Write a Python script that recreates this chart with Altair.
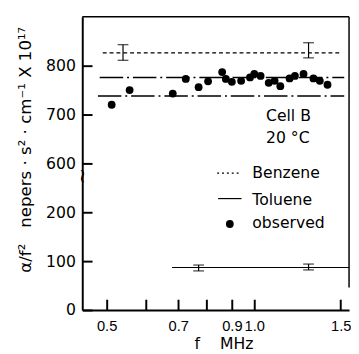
import altair as alt
import pandas as pd

# ---- data ----
obs_f = [0.512, 0.557, 0.682, 0.725, 0.770, 0.805, 0.860, 0.875, 0.900, 0.940, 0.980,
         1.000, 1.030, 1.070, 1.100, 1.130, 1.180, 1.210, 1.260, 1.320, 1.360, 1.410]
obs_a = [720, 750, 743, 773, 756, 768, 787, 773, 767, 769, 776,
         783, 779, 765, 769, 758, 774, 779, 783, 774, 769, 761]

benzene_f = [0.491, 1.50]
benzene_a = [826, 826]
upper_dd_f = [0.484, 1.525]
upper_dd_a = [776, 776]
lower_dd_f = [0.480, 1.525]
lower_dd_a = [738, 738]
toluene_f = [0.68, 1.56]
toluene_a = [87, 87]

err_f = [0.54, 1.29, 0.77, 1.29]
err_lo = [811, 816, 80, 82]
err_hi = [843, 847, 92, 94]

x_ticks = [0.5, 0.6, 0.7, 0.8, 0.9, 1.0, 1.5]
x_unlabelled = [0.6, 0.8]
y_ticks_mapped = [0, 100, 200, 300, 400, 500]   # 600/700/800 sit above the break

F_MIN, F_MAX = 0.446, 1.56


def brk(v):
    # broken axis: values above the break are shifted down by 300
    return v - 300 if v >= 450 else v


W, H = 273, 300
NB = "\u00a0"

xscale = alt.Scale(type="log", domain=[F_MIN, F_MAX], nice=False, zero=False)
yscale = alt.Scale(domain=[0, 600], nice=False, zero=False)

x_label_expr = ("indexof(" + str(x_unlabelled) + ", datum.value) >= 0 ? '' : "
                "format(datum.value, '.1f')")


def X():
    return alt.X("f:Q", scale=xscale, axis=alt.Axis(
        values=x_ticks, labelExpr=x_label_expr, ticks=True,
        tickSize={"expr": "-11"}, tickWidth=2, tickColor="#000000", tickOpacity=1,
        grid=False, domainColor="#000000", domainWidth=2,
        labelPadding=20, labelOverlap=False, labelFontSize=15, labelColor="#000000",
        labelFont="Liberation Sans", title=None, zindex=1))


def Y():
    return alt.Y("ym:Q", scale=yscale, axis=alt.Axis(
        values=y_ticks_mapped,
        labelExpr="datum.value >= 300 ? format(datum.value + 300, 'd') : format(datum.value, 'd')",
        ticks=True, tickSize={"expr": "-10"}, tickWidth=2, tickColor="#000000",
        tickOpacity=1, grid=False, domainColor="#000000", domainWidth=2,
        labelPadding=17, labelFontSize=16, labelColor="#000000",
        labelFont="DejaVu Sans", title=None, zindex=1))


def line_df(fs, vals):
    return pd.DataFrame({"f": fs, "ym": [brk(v) for v in vals]})


def txt(s, x, y, size=16, angle=0, align="left"):
    return alt.Chart(pd.DataFrame({"t": [s]})).mark_text(
        align=align, baseline="middle", fontSize=size, font="DejaVu Sans",
        color="black", angle=angle).encode(text="t:N", x=alt.value(x), y=alt.value(y))


obs = pd.DataFrame({"f": obs_f, "ym": [brk(v) for v in obs_a]})
eb = pd.DataFrame({"f": err_f, "ym": [brk(v) for v in err_lo],
                   "ym2": [brk(v) for v in err_hi]})
caps = pd.DataFrame({"f": err_f + err_f,
                     "ym": [brk(v) for v in err_lo] + [brk(v) for v in err_hi]})

benz = alt.Chart(line_df(benzene_f, benzene_a)).mark_line(
    color="black", strokeWidth=1.3, strokeDash=[4, 3]).encode(x=X(), y=Y())
udd = alt.Chart(line_df(upper_dd_f, upper_dd_a)).mark_line(
    color="black", strokeWidth=1.5, strokeDash=[24, 4, 2, 4]).encode(x=X(), y=Y())
ldd = alt.Chart(line_df(lower_dd_f, lower_dd_a)).mark_line(
    color="black", strokeWidth=1.5, strokeDash=[24, 4, 2, 4]).encode(x=X(), y=Y())
tol = alt.Chart(line_df(toluene_f, toluene_a)).mark_line(
    color="black", strokeWidth=1.2).encode(x=X(), y=Y())

ebars = alt.Chart(eb).mark_rule(color="black", strokeWidth=1.2).encode(
    x=X(), y=Y(), y2="ym2:Q")
ecaps = alt.Chart(caps).mark_tick(orient="horizontal", size=11, thickness=1.3,
                                  color="black").encode(x=X(), y=Y())

dots = alt.Chart(obs).mark_point(filled=True, shape="circle", size=64,
                                 color="black", opacity=1).encode(x=X(), y=Y())

# frame (top and right)
top = alt.Chart(pd.DataFrame({"a": [0]})).mark_rule(color="black", strokeWidth=1.5).encode(
    x=alt.value(0), x2=alt.value(W), y=alt.value(0))
right = alt.Chart(pd.DataFrame({"a": [1]})).mark_rule(color="black", strokeWidth=1.5).encode(
    x=alt.value(W), y=alt.value(0), y2=alt.value(277))

# axis break
squig = txt("~", 0, 163, size=20, angle=90, align="center")

# titles
ytitle = txt("α/f²" + NB * 3 + "nepers · s² · cm⁻¹ X 10¹⁷", -57, 136, size=17,
             angle=270, align="center")
xtitle = txt("f" + NB * 4 + "MHz", 145, 335, size=16, align="center")

# annotations
cell = txt("Cell B", 188, 102)
temp = txt("20 °C", 188, 124)

# legend
leg_names = ["Benzene", "Toluene", "observed"]
leg_y = [160, 188, 211]
leg_texts = [txt(n, 174, yy) for n, yy in zip(leg_names, leg_y)]
leg_b = alt.Chart(pd.DataFrame({"a": [3]})).mark_rule(
    color="black", strokeWidth=1.3, strokeDash=[2, 3]).encode(
    x=alt.value(138), x2=alt.value(162), y=alt.value(160))
leg_t = alt.Chart(pd.DataFrame({"a": [4]})).mark_rule(
    color="black", strokeWidth=1.2).encode(
    x=alt.value(139), x2=alt.value(163), y=alt.value(186))
leg_o = alt.Chart(pd.DataFrame({"a": [5]})).mark_point(
    filled=True, shape="circle", size=64, color="black", opacity=1).encode(
    x=alt.value(151), y=alt.value(212))

chart = alt.layer(
    benz, udd, ldd, tol, ebars, ecaps, dots, top, right, squig,
    ytitle, xtitle, cell, temp, *leg_texts, leg_b, leg_t, leg_o
).properties(
    width=W, height=H,
    autosize=alt.AutoSizeParams(type="none"),
    padding={"left": 76, "top": 5, "right": 2, "bottom": 41},
).configure(background="white").configure_view(strokeWidth=0)

chart.save("out.html", embed_options={"renderer": "svg", "actions": False})
